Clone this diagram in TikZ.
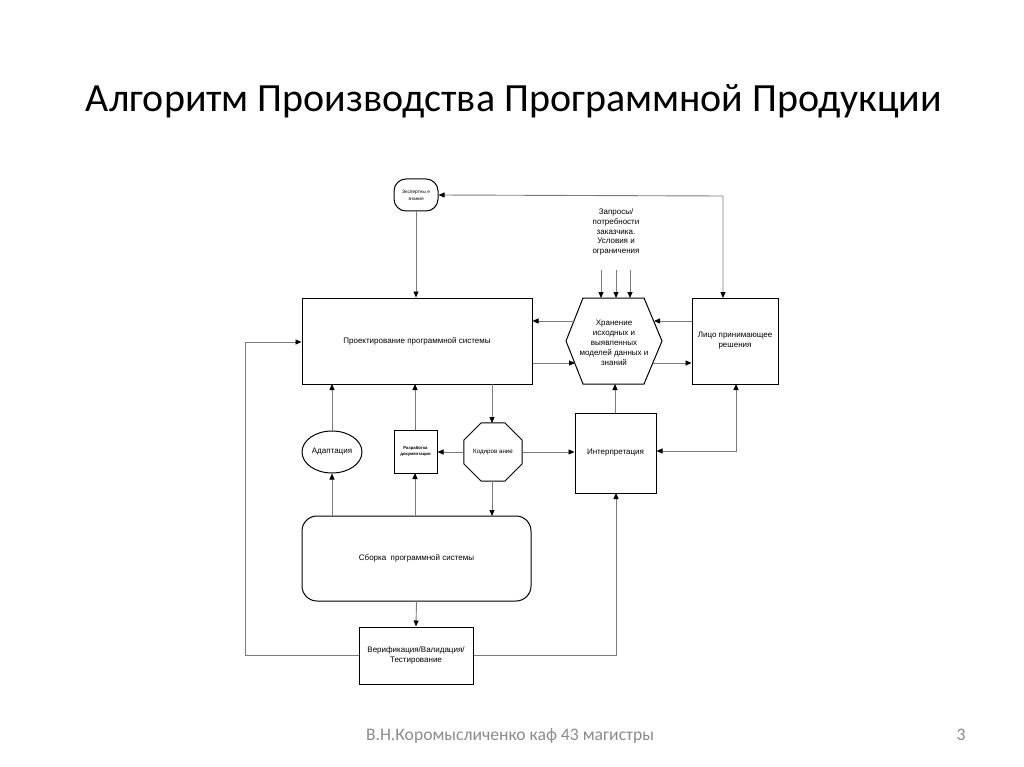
\documentclass[tikz,border=0pt]{standalone}
\usepackage{fontspec}
\setmainfont{Liberation Sans}
\newfontfamily\calibri{Carlito}
\usetikzlibrary{arrows.meta,shapes.geometric,calc}
\definecolor{linegray}{HTML}{7A7A7A}
\definecolor{footgray}{HTML}{8B8B8B}
\begin{document}
\begin{tikzpicture}[x=1pt,y=-1pt,
  box/.style={draw=black,line width=1pt,fill=white,inner sep=0pt,align=center,
    font=\fontsize{8}{10}\selectfont},
  conn/.style={draw=linegray,line width=0.9pt,-{Triangle[length=6pt,width=5pt,color=black]}},
  dconn/.style={draw=linegray,line width=0.9pt,{Triangle[length=6pt,width=5pt,color=black]}-{Triangle[length=6pt,width=5pt,color=black]}},
  lbl/.style={inner sep=0pt,align=center,font=\fontsize{8}{9.7}\selectfont}
]
\useasboundingbox (0,0) rectangle (1024,767);
\fill[white] (0,0) rectangle (1024,767);

% title and footer
\node[anchor=base,inner sep=0pt,font=\calibri\fontsize{40}{48}\selectfont] (title) at (514,112) {Алгоритм Производства Программной Продукции};
\node[anchor=base,inner sep=0pt,text=footgray,font=\calibri\fontsize{17.6}{20}\selectfont] (foot) at (510,740) {В.Н.Коромысличенко каф 43 магистры};
\node[anchor=base,inner sep=0pt,text=footgray,font=\calibri\fontsize{17.6}{20}\selectfont] (page) at (961,740) {3};

% nodes
\node[box,rounded corners=12pt,minimum width=44pt,minimum height=32pt,font=\fontsize{4.8}{7}\selectfont] (exp) at (416,195) {Экспертны е\\знания};
\node[box,minimum width=230pt,minimum height=86pt] (proj) at (417,341) {Проектирование программной системы};
\node[box,minimum width=86pt,minimum height=86pt] (lico) at (735,341) {Лицо принимающее\\решения};
\draw[black,line width=1pt,fill=white] (566,341) -- (583,298) -- (644,298) -- (662,341) -- (644,384) -- (583,384) -- cycle;
\node[lbl,font=\fontsize{8}{10}\selectfont] (hex) at (614,343) {Хранение\\исходных и\\выявленных\\моделей данных и\\знаний};
\coordinate (hexN) at (614,298);
\coordinate (hexS) at (614,384);
\coordinate (hexL1) at (574,321);
\coordinate (hexL2) at (575,363);
\coordinate (hexR1) at (654,321);
\coordinate (hexR2) at (653,363);

\node[lbl] (zap) at (616,232) {Запросы/\\потребности\\заказчика.\\Условия и\\ограничения};

\node[box,shape=ellipse,minimum width=60pt,minimum height=42pt] (adapt) at (332,452) {Адаптация};
\node[box,minimum width=43pt,minimum height=43pt,font=\bfseries\fontsize{4.3}{6}\selectfont] (doc) at (415.5,451.5) {Разработка\\документации};
\node[box,regular polygon,regular polygon sides=8,minimum size=62.8pt,font=\fontsize{6.2}{8}\selectfont] (cod) at (493,452) {Кодиров ание};
\node[box,minimum width=81pt,minimum height=80pt] (interp) at (615.5,453) {Интерпретация};
\node[box,rounded corners=15pt,minimum width=229pt,minimum height=85pt] (sborka) at (416.5,558.5) {Сборка\ \ программной системы};
\node[box,minimum width=114pt,minimum height=57pt] (verif) at (416,655.5) {Верификация/Валидация/\\Тестирование};

% connectors
\draw[conn] (exp.south) -- (exp.south |- proj.north);
\draw[dconn] (exp.east) -- (723,196) -- (723,298);
\draw[conn] (hexL1) -- (proj.east |- hexL1);
\draw[conn] (proj.east |- hexL2) -- (hexL2);
\draw[conn] (lico.west |- hexR1) -- (hexR1);
\draw[conn] (hexR2) -- (lico.west |- hexR2);
\coordinate (z1) at (601,270);
\coordinate (z2) at (616,270);
\coordinate (z3) at (630,270);
\draw[conn] (z1) -- (z1 |- hexN);
\draw[conn] (z2) -- (z2 |- hexN);
\draw[conn] (z3) -- (z3 |- hexN);

\draw[conn] (verif.west) -- (245,655.5) -- (245,342) -- (proj.west |- 0,342);
\draw[conn] (verif.east) -- (616,655.5) -- (616,493);
\draw[conn] (sborka.south |- 0,601) -- (verif.north);

\draw[conn] (332,516) -- (adapt.south);
\draw[conn] (adapt.north) -- (332,384);
\draw[conn] (415,516) -- (415,473);
\draw[conn] (415,430) -- (415,384);
\draw[conn] (492,384) -- (492,423);
\draw[conn] (492,481) -- (492,516);
\draw[conn] (cod.west) -- (doc.east |- cod.west);
\draw[conn] (cod.east) -- (interp.west |- cod.east);
\draw[conn] (615,413) -- (615,384);
\draw[dconn] (736,384) -- (736,451) -- (interp.east |- 0,451);
\end{tikzpicture}
\end{document}
